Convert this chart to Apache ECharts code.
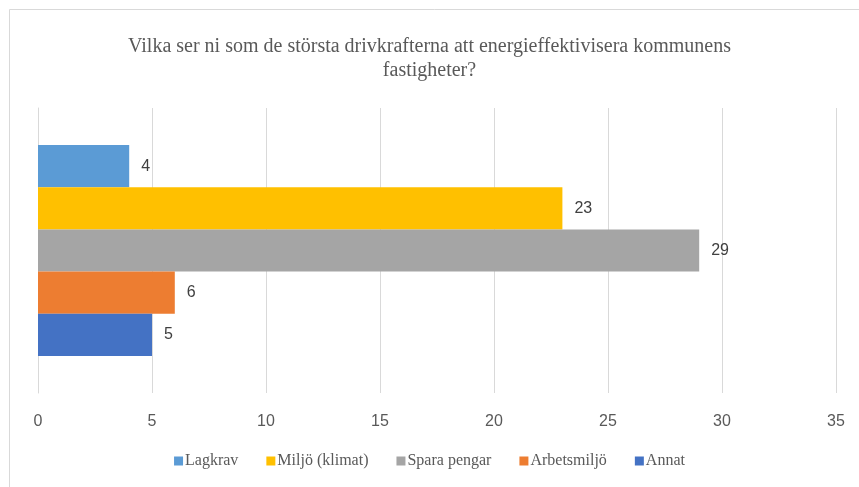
<!DOCTYPE html>
<html>
<head>
<meta charset="utf-8">
<script src="https://cdn.jsdelivr.net/npm/echarts@6/dist/echarts.min.js"></script>
<style>
  html, body { margin: 0; padding: 0; background: #fff; }
  #chart { width: 859px; height: 487px; }
</style>
</head>
<body>
<div id="chart"></div>
<script>
const categories = ['Drivkrafter']
const seriesNames = ['Lagkrav', 'Miljö (klimat)', 'Spara pengar', 'Arbetsmiljö', 'Annat']
const seriesValues = [4, 23, 29, 6, 5]
const seriesColors = ['#5b9bd5', '#ffc000', '#a5a5a5', '#ed7d31', '#4472c4']

const chart = echarts.init(document.getElementById('chart'))

const serif = '"Liberation Serif", "DejaVu Serif", serif'
const sans = '"Liberation Sans", Arial, sans-serif'

const option = {
  backgroundColor: '#fff',
  animation: false,

  title: {
    text: 'Vilka ser ni som de största drivkrafterna att energieffektivisera kommunens\nfastigheter?',
    left: 'center',
    top: 30,
    textStyle: {
      fontFamily: serif,
      fontWeight: 'normal',
      fontSize: 20,
      lineHeight: 24,
      color: '#595959'
    }
  },

  legend: {
    bottom: 13,
    left: 'center',
    itemWidth: 9,
    itemHeight: 9,
    itemGap: 28,
    icon: 'rect',
    textStyle: {
      fontFamily: serif,
      fontSize: 16,
      color: '#595959',
      padding: [0, 0, 0, -3]
    },
    data: seriesNames
  },

  graphic: [
    {
      type: 'rect',
      shape: { x: 9.5, y: 9.5, width: 900, height: 500 },
      style: { fill: 'none', stroke: '#d9d9d9', lineWidth: 1 },
      silent: true
    }
  ],

  grid: {
    left: 38,
    right: 23,
    top: 108,
    bottom: 94,
    containLabel: false
  },

  xAxis: {
    type: 'value',
    min: 0,
    max: 35,
    interval: 5,
    axisLine: { show: false },
    axisTick: { show: false },
    axisLabel: {
      margin: 21,
      fontFamily: sans,
      fontSize: 16,
      color: '#595959'
    },
    splitLine: {
      lineStyle: { color: '#d9d9d9', width: 1 }
    }
  },

  yAxis: {
    type: 'category',
    data: categories,
    inverse: true,
    axisLine: { show: true, lineStyle: { color: '#d9d9d9' } },
    axisTick: { show: false },
    axisLabel: { show: false }
  },

  series: seriesNames.map((name, i) => ({
    name: name,
    type: 'bar',
    data: [seriesValues[i]],
    barGap: '0%',
    barCategoryGap: '26%',
    itemStyle: { color: seriesColors[i] },
    label: {
      show: true,
      position: 'right',
      distance: 12,
      fontFamily: sans,
      fontSize: 16,
      color: '#404040'
    }
  }))
}

chart.setOption(option)
</script>
</body>
</html>
